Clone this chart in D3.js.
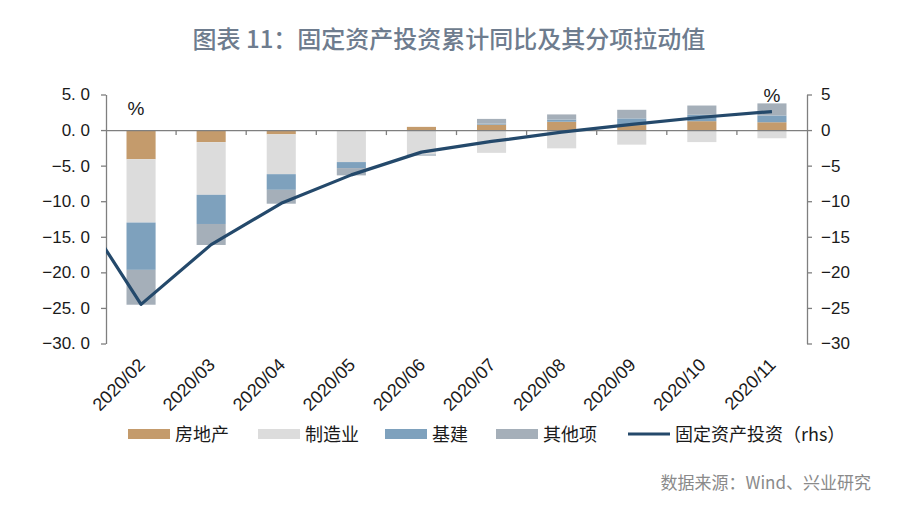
<!DOCTYPE html>
<html><head><meta charset="utf-8">
<script src="https://cdn.jsdelivr.net/npm/d3@7/dist/d3.min.js"></script>
<style>
html,body{margin:0;padding:0;background:#fff;}
svg{display:block;}
</style></head>
<body>
<svg id="chart" width="900" height="518"></svg>
<script>
// ---- data ----
const categories = ["2020/02","2020/03","2020/04","2020/05","2020/06","2020/07","2020/08","2020/09","2020/10","2020/11"];
const realEstate     = [-4.1, -1.7, -0.6, -0.05, 0.45, 0.76, 1.17, 0.70, 1.25, 1.10];
const manufacturing  = [-8.9, -7.4, -5.6, -4.45, -3.40, -3.20, -2.57, -2.05, -1.69, -1.15];
const infrastructure = [-6.65, -4.1, -2.2, -0.84, -0.05, 0.15, 0.30, 0.94, 0.90, 0.95];
const others         = [-4.9, -2.95, -1.95, -1.03, -0.15, 0.66, 0.73, 1.21, 1.30, 1.70];
const faiTotal       = [-24.5, -16.1, -10.3, -6.3, -3.1, -1.6, -0.3, 0.8, 1.8, 2.6];
const faiLead        = -9.2; // value of the preceding (off-chart) point, clipped at the axis
const leftTicks  = [5, 0, -5, -10, -15, -20, -25, -30];
const rightTicks = [5, 0, -5, -10, -15, -20, -25, -30];
const seriesNames = ["房地产","制造业","基建","其他项"];
const lineName = "固定资产投资（rhs）";
const colors = ["#C49B6C", "#DCDCDC", "#7EA1BD", "#A5AFB9"];
const lineColor = "#24496B";

const svg = d3.select("#chart");
const W = 900, H = 518;
const x0 = 106, x1 = 807, yTop = 94.5, yBot = 343.5;

const x = d3.scaleBand().domain(categories).range([x0, x1]).padding(0);
const yL = d3.scaleLinear().domain([-30, 5]).range([yBot, yTop]);
const yR = d3.scaleLinear().domain([-30, 5]).range([yBot, yTop]);
const barW = x.bandwidth() * 0.415;
const axisColor = "#7F7F7F";
const numFont = "'Liberation Sans', Arial, sans-serif";
const cjkFont = "'Noto Sans CJK SC', sans-serif";

// title
svg.append("text").attr("x", 449).attr("y", 48).attr("text-anchor", "middle")
  .attr("font-family", cjkFont).attr("font-size", 24).attr("font-weight", 500)
  .attr("fill", "#6E7C8E").text("图表 11：固定资产投资累计同比及其分项拉动值");

// stacked bars
const rows = categories.map((c, i) => ({cat: c, s0: realEstate[i], s1: manufacturing[i], s2: infrastructure[i], s3: others[i]}));
const stack = d3.stack().keys(["s0","s1","s2","s3"]).offset(d3.stackOffsetDiverging);
const layers = stack(rows);
const g = svg.append("g");
layers.forEach((layer, k) => {
  g.selectAll(null).data(layer).enter().append("rect")
    .attr("x", d => x(d.data.cat) + x.bandwidth() / 2 - barW / 2)
    .attr("width", barW)
    .attr("y", d => yL(Math.max(d[0], d[1])))
    .attr("height", d => Math.abs(yL(d[0]) - yL(d[1])))
    .attr("fill", colors[k]);
});

// x axis (at zero)
const xAxis = d3.axisBottom(x).tickSize(0).tickFormat("");
const xg = svg.append("g").attr("transform", `translate(0,${yL(0)})`).call(xAxis);
xg.select(".domain").attr("stroke", axisColor).attr("stroke-width", 1.3);
const bounds = d3.range(1, categories.length).map(i => x0 + i * x.step());
svg.append("g").selectAll("line").data(bounds).enter().append("line")
  .attr("x1", d => d).attr("x2", d => d)
  .attr("y1", yL(0)).attr("y2", yL(0) + 5)
  .attr("stroke", axisColor).attr("stroke-width", 1.3);

// x labels rotated
svg.append("g").selectAll("text").data(categories).enter().append("text")
  .attr("transform", d => `translate(${x(d) + x.bandwidth() / 2 + 5},366) rotate(-45)`)
  .attr("text-anchor", "end").attr("font-family", numFont).attr("font-size", 18)
  .attr("fill", "#1a1a1a").text(d => d);

// left axis
const fmtL = v => d3.format(".1f")(v).replace("-", "−").replace(".", ". ");
const la = svg.append("g").attr("transform", `translate(${x0},0)`)
  .call(d3.axisLeft(yL).tickValues(leftTicks).tickSize(5).tickSizeOuter(0).tickPadding(11).tickFormat(fmtL));
la.select(".domain").attr("stroke", axisColor).attr("stroke-width", 1.3);
la.selectAll(".tick line").attr("stroke", axisColor).attr("stroke-width", 1.3);
la.selectAll("text").attr("font-family", numFont).attr("font-size", 17).attr("fill", "#1a1a1a");

// right axis
const fmtR = v => d3.format("d")(v).replace("-", "−");
const ra = svg.append("g").attr("transform", `translate(${x1},0)`)
  .call(d3.axisRight(yR).tickValues(rightTicks).tickSize(5).tickSizeOuter(0).tickPadding(9).tickFormat(fmtR));
ra.select(".domain").attr("stroke", axisColor).attr("stroke-width", 1.3);
ra.selectAll(".tick line").attr("stroke", axisColor).attr("stroke-width", 1.3);
ra.selectAll("text").attr("font-family", numFont).attr("font-size", 17).attr("fill", "#1a1a1a");

// "%" labels
svg.append("text").attr("x", 136).attr("y", 115).attr("text-anchor", "middle")
  .attr("font-family", numFont).attr("font-size", 19).attr("fill", "#1a1a1a").text("%");
svg.append("text").attr("x", 772).attr("y", 102).attr("text-anchor", "middle")
  .attr("font-family", numFont).attr("font-size", 19).attr("fill", "#1a1a1a").text("%");

// line (clipped to plot area)
svg.append("clipPath").attr("id", "plotclip").append("rect")
  .attr("x", x0).attr("y", 0).attr("width", x1 - x0).attr("height", H);
const step = x.step();
const linePts = [{i: -1, v: faiLead}].concat(faiTotal.map((v, i) => ({i, v})));
const line = d3.line()
  .x(d => x0 + step * (d.i + 0.5))
  .y(d => yR(d.v));
svg.append("path").datum(linePts).attr("d", line)
  .attr("fill", "none").attr("stroke", lineColor).attr("stroke-width", 3.2)
  .attr("stroke-linejoin", "round").attr("clip-path", "url(#plotclip)");

// legend
const legY = 434;
const legX = [128, 258, 385, 496];
seriesNames.forEach((n, k) => {
  svg.append("rect").attr("x", legX[k]).attr("y", legY - 5).attr("width", 42).attr("height", 10).attr("fill", colors[k]);
  svg.append("text").attr("x", legX[k] + 47).attr("y", legY + 6.5).attr("font-family", cjkFont)
    .attr("font-size", 18).attr("fill", "#1a1a1a").text(n);
});
svg.append("line").attr("x1", 628).attr("x2", 670).attr("y1", legY).attr("y2", legY)
  .attr("stroke", lineColor).attr("stroke-width", 3);
svg.append("text").attr("x", 675).attr("y", legY + 6.5).attr("font-family", cjkFont)
  .attr("font-size", 18).attr("fill", "#1a1a1a").text(lineName);

// source
svg.append("text").attr("x", 871).attr("y", 489).attr("text-anchor", "end")
  .attr("font-family", cjkFont).attr("font-size", 17).attr("fill", "#8A8A8A")
  .text("数据来源：Wind、兴业研究");
</script>
</body></html>
